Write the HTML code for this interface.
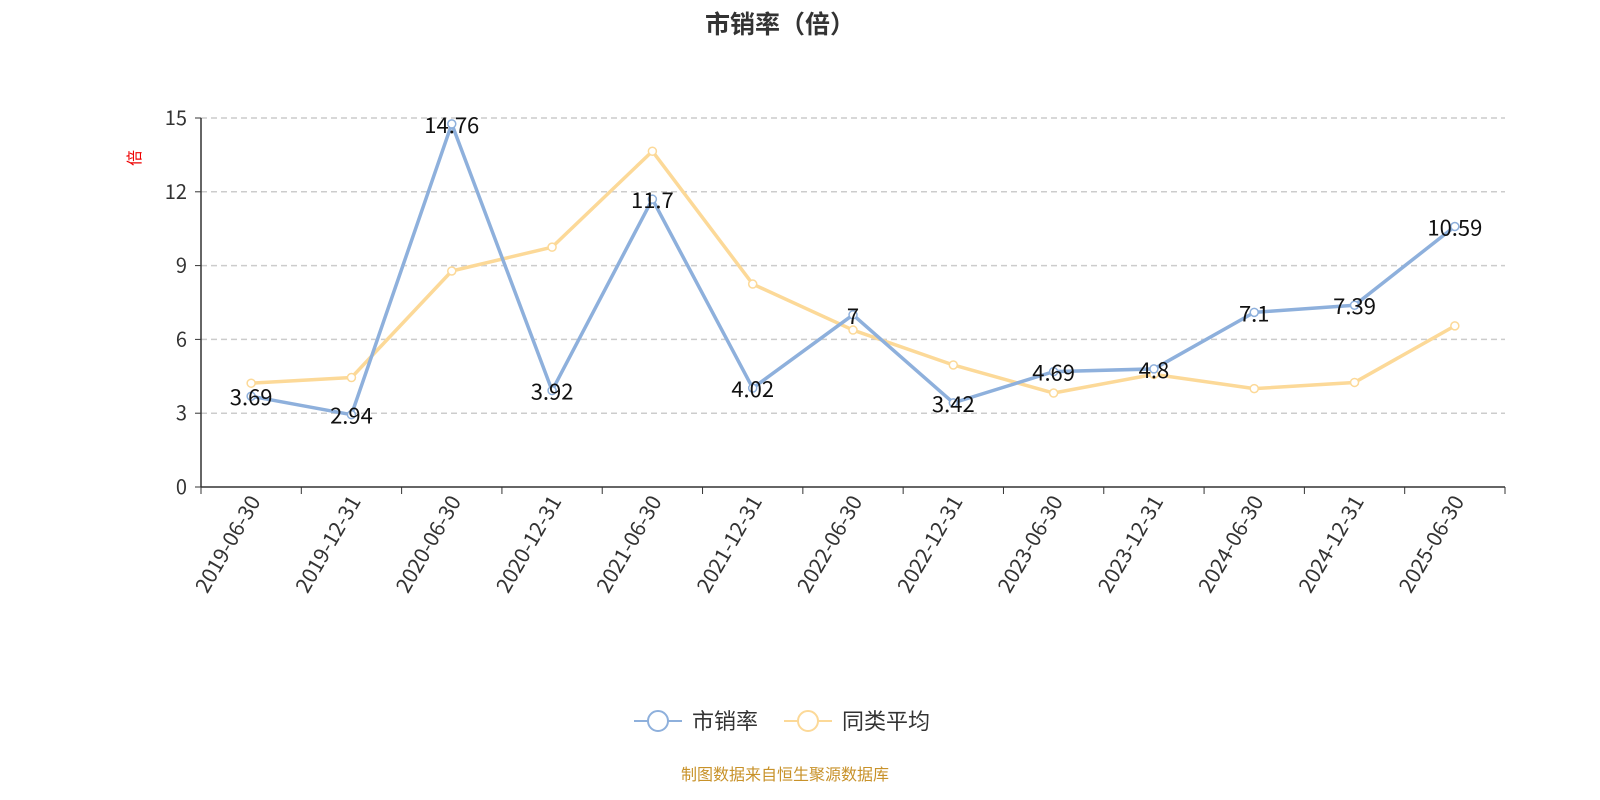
<!DOCTYPE html>
<html><head><meta charset="utf-8"><style>
html,body{margin:0;padding:0;background:#fff;width:1600px;height:800px;overflow:hidden}
svg text{font-family:"Noto Sans CJK SC","Liberation Sans",sans-serif}
</style></head><body>
<svg id="chart" width="1600" height="800" xmlns="http://www.w3.org/2000/svg">
<text x="780" y="33" text-anchor="middle" font-size="25" font-weight="bold" fill="#333">市销率（倍）</text>
<text transform="translate(140,158) rotate(-90)" text-anchor="middle" font-size="16" fill="#e00">倍</text>
<g id="grid"></g><g id="axes"></g><g id="series"></g>
<g>
<g>
<line x1="634" y1="721" x2="682" y2="721" stroke="#8eb0dc" stroke-width="2"/>
<circle cx="658" cy="721" r="10" fill="#fff" stroke="#8eb0dc" stroke-width="2"/>
<text x="692" y="729" font-size="22" fill="#333">市销率</text></g>
<g>
<line x1="784" y1="721" x2="832" y2="721" stroke="#fcd998" stroke-width="2"/>
<circle cx="808" cy="721" r="10" fill="#fff" stroke="#fcd998" stroke-width="2"/>
<text x="842" y="729" font-size="22" fill="#333">同类平均</text></g>
</g>
<text x="785" y="780" text-anchor="middle" font-size="16" fill="#c8922a">制图数据来自恒生聚源数据库</text>
</svg>
<script>
const categories=["2019-06-30","2019-12-31","2020-06-30","2020-12-31","2021-06-30","2021-12-31","2022-06-30","2022-12-31","2023-06-30","2023-12-31","2024-06-30","2024-12-31","2025-06-30"];
const psValues=[3.69,2.94,14.76,3.92,11.7,4.02,7,3.42,4.69,4.8,7.1,7.39,10.59];
const avgValues=[4.22,4.45,8.78,9.75,13.65,8.25,6.38,4.96,3.82,4.58,4.0,4.25,6.55];
const yTicks=[0,3,6,9,12,15];
const NS="http://www.w3.org/2000/svg";
const X0=201,X1=1505,Y0=487,Y1=118,YMAX=15;
const band=(X1-X0)/categories.length;
const xs=i=>X0+band*(i+0.5);
const ys=v=>Y0-(v/YMAX)*(Y0-Y1);
function mk(tag,attrs,parent){const e=document.createElementNS(NS,tag);for(const k in attrs)e.setAttribute(k,attrs[k]);parent.appendChild(e);return e;}
const grid=document.getElementById('grid'),axes=document.getElementById('axes'),series=document.getElementById('series');
yTicks.forEach(t=>{
  const y=ys(t);
  if(t>0){const g=mk('line',{x1:X0,x2:X1,y1:y,y2:y,stroke:'#ccc','stroke-dasharray':'6,4','stroke-width':1.5},grid);
  
  }
  const tk=mk('line',{x1:X0-6,x2:X0,y1:y,y2:y,stroke:'#333'},axes);
  
  
  const lb=mk('text',{x:X0-14,y:y+7,'text-anchor':'end','font-size':20,fill:'#333'},axes);
  
  
  lb.textContent=t;
});
const ya=mk('line',{x1:X0,x2:X0,y1:Y1,y2:Y0,stroke:'#333','stroke-width':1.5},axes);


const xa=mk('line',{x1:X0,x2:X1,y1:Y0,y2:Y0,stroke:'#333','stroke-width':1.5},axes);


for(let i=0;i<=categories.length;i++){
  const x=X0+band*i;
  const tk=mk('line',{x1:x,x2:x,y1:Y0,y2:Y0+7,stroke:'#333'},axes);
  
  
}
categories.forEach((c,i)=>{
  const x=xs(i);
  const lb=mk('text',{transform:`translate(${x+10},${Y0+14}) rotate(-60)`,'text-anchor':'end','font-size':21,fill:'#333'},axes);
  
  
  lb.textContent=c;
});
function drawSeries(vals,color,name,labels){
  const pts=vals.map((v,i)=>xs(i)+','+ys(v)).join(' ');
  const pl=mk('polyline',{points:pts,fill:'none',stroke:color,'stroke-width':3.5,'stroke-linejoin':'round'},series);
  
  
  vals.forEach((v,i)=>{
    const c=mk('circle',{cx:xs(i),cy:ys(v),r:4,fill:'#fff',stroke:color,'stroke-width':1.5},series);
    
    
    if(labels){
      const t=mk('text',{x:xs(i),y:ys(v)+9,'text-anchor':'middle','font-size':22,fill:'#111'},series);
      
      
      t.textContent=v;
    }
  });
}
drawSeries(avgValues,'#fcd998','peer-average',false);
drawSeries(psValues,'#8eb0dc','ps',true);
</script>
</body></html>
